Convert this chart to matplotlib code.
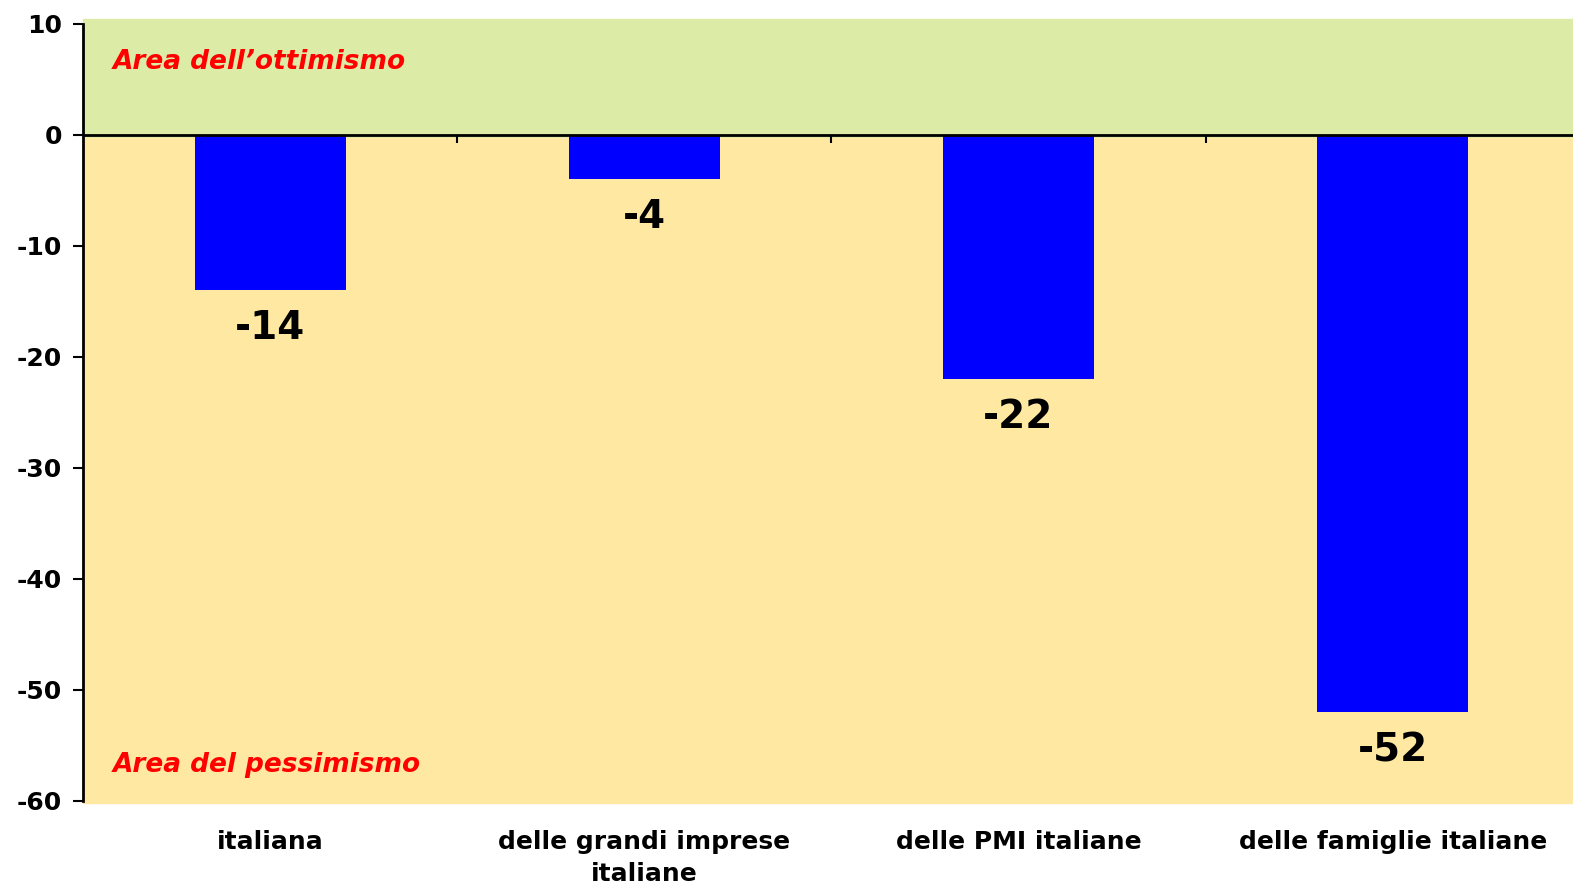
import matplotlib.pyplot as plt
from matplotlib.patches import Rectangle
from matplotlib.transforms import blended_transform_factory

categories = ["italiana", "delle grandi imprese\nitaliane", "delle PMI italiane", "delle famiglie italiane"]
values = [-14, -4, -22, -52]
yticks = [10, 0, -10, -20, -30, -40, -50, -60]

fig = plt.figure(figsize=(15.73, 8.86), dpi=100)
ax = fig.add_axes([0.0528, 0.096, 0.9515, 0.877])
ax.set_xlim(-0.5, len(categories) - 0.5)
ax.set_ylim(-60, 10)

# background areas
ax.add_patch(Rectangle((-0.5, -0.3), len(categories), 10.7, color="#dcebA5", zorder=0, clip_on=False))
ax.add_patch(Rectangle((-0.5, -60.2), len(categories), 59.9, color="#ffe9a2", zorder=0, clip_on=False))

x = range(len(categories))
ax.bar(x, values, width=0.403, color="#0000ff", zorder=2)
for i, v in zip(x, values):
    ax.annotate(str(v), (i, v), xytext=(0, -38), textcoords="offset pixels",
                ha="center", va="center", fontsize=28, fontweight="bold")

ax.axhline(0, color="black", lw=2, zorder=3)

for s in ["top", "right"]:
    ax.spines[s].set_visible(False)
ax.spines["left"].set_linewidth(2)
ax.spines["bottom"].set_position(("data", 0))
ax.spines["bottom"].set_visible(False)

ax.set_yticks(yticks)
ax.set_yticklabels([str(t) for t in yticks], fontsize=18, fontweight="bold")
ax.tick_params(axis="y", length=7, width=1.5, pad=8)
ax.set_xticks([0.5, 1.5, 2.5])
ax.set_xticklabels([])
ax.tick_params(axis="x", length=6, width=1.5, direction="out")

tr = blended_transform_factory(ax.transData, ax.transAxes)
for i, c in enumerate(categories):
    ax.text(i, -0.037, c, transform=tr, ha="center", va="top", fontsize=18,
            fontweight="bold", linespacing=1.45)

ax.text(0.02, 0.951, "Area dell\u2019ottimismo", transform=ax.transAxes, color="red",
        fontsize=19, fontweight="bold", style="italic", va="center")
ax.text(0.02, 0.046, "Area del pessimismo", transform=ax.transAxes, color="red",
        fontsize=19, fontweight="bold", style="italic", va="center")

fig.savefig("out.png", dpi=100)
